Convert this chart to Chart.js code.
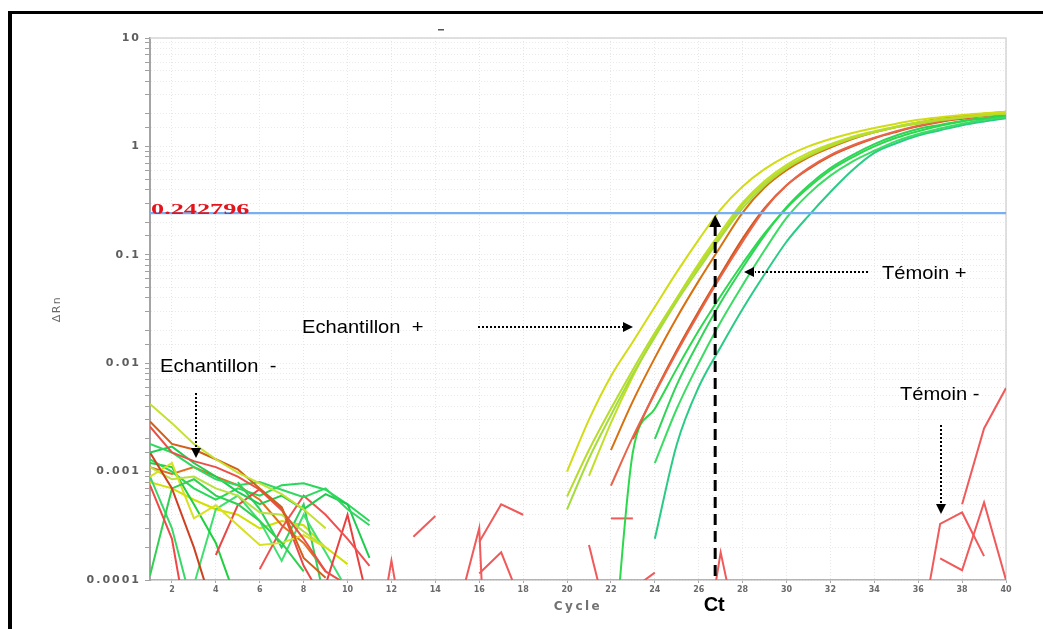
<!DOCTYPE html>
<html><head><meta charset="utf-8">
<script src="https://cdn.jsdelivr.net/npm/chart.js@4.4.1/dist/chart.umd.min.js"></script>
<style>html,body{margin:0;padding:0;background:#fff;}canvas{display:block;}</style>
</head><body>
<canvas id="c" width="1043" height="629"></canvas>
<script>
// ---------- axes ----------
const cycleMin = 1, cycleMax = 40;
const xTickLabels = [2,4,6,8,10,12,14,16,18,20,22,24,26,28,30,32,34,36,38,40];
const yTickLabels = [0.0001, 0.001, 0.01, 0.1, 1, 10];
const threshold = 0.242796;
const ctCycle = 26.75;

// ---------- amplification curves (start cycle + values) ----------
const ampAStart = 20;
const ampA  = [0.00100,0.00302,0.00759,0.0158,0.0331,0.0692,0.138,0.263,0.427,0.617,0.813,1.00,1.17,1.33,1.48,1.62,1.76,1.86,1.95,2.02,2.09];
const ampA2Start = 20;
const ampA2 = [0.000589,0.00158,0.00380,0.00871,0.0191,0.0398,0.0794,0.151,0.288,0.457,0.646,0.832,1.02,1.20,1.36,1.51,1.64,1.76,1.86,1.95,2.02];
const ampA3Start = 20;
const ampA3 = [0.000447,0.00132,0.00331,0.00794,0.0174,0.0372,0.0741,0.145,0.269,0.437,0.631,0.813,1.00,1.19,1.35,1.50,1.62,1.74,1.84,1.93,2.00];
const ampA4Start = 21;
const ampA4 = [0.000912,0.00282,0.00759,0.0182,0.0398,0.0832,0.162,0.302,0.479,0.676,0.871,1.05,1.23,1.38,1.53,1.66,1.78,1.86,1.95,2.02];
const ampBStart = 22;
const ampB  = [0.00158,0.00447,0.0112,0.0263,0.0575,0.120,0.245,0.417,0.603,0.794,0.977,1.17,1.35,1.51,1.66,1.80,1.91,2.00,2.09];
const ampB2Start = 22;
const ampB2 = [0.000741,0.00209,0.00525,0.0126,0.0288,0.0631,0.132,0.263,0.437,0.631,0.832,1.02,1.20,1.38,1.55,1.70,1.82,1.93,2.02];
const ampB3Start = 23;
const ampB3 = [0.00200,0.00537,0.0132,0.0302,0.0661,0.141,0.269,0.437,0.617,0.813,1.00,1.19,1.36,1.53,1.68,1.80,1.91,2.00];
const ampCStart = 22;
const ampC  = [0.00001,0.00151,0.00380,0.00891,0.0200,0.0417,0.0832,0.158,0.269,0.417,0.603,0.794,1.00,1.20,1.38,1.55,1.70,1.82,1.93];
const ampC2Start = 24;
const ampC2 = [0.00200,0.00631,0.0158,0.0363,0.0759,0.151,0.275,0.437,0.631,0.832,1.05,1.26,1.45,1.58,1.72,1.82,1.93];
const ampC3Start = 24;
const ampC3 = [0.00120,0.00380,0.0100,0.0240,0.0525,0.110,0.219,0.363,0.537,0.724,0.912,1.12,1.30,1.46,1.62,1.76,1.86];
const ampDStart = 24;
const ampD  = [0.000240,0.00178,0.00603,0.0141,0.0316,0.0661,0.132,0.229,0.380,0.603,0.871,1.07,1.26,1.41,1.57,1.70,1.82];

// ---------- baseline noise, cycles 1..11 ----------
const noise1  = [0.0042,0.0028,0.0018,0.0013,0.00098,0.00078,0.00062,0.00045,0.0003];
const noise2  = [0.0029,0.0018,0.0016,0.0013,0.00105,0.0007,0.00047,0.00016,0.000105];
const noise3  = [0.0026,0.0015,0.00125,0.0011,0.0009,0.00068,0.00044,0.00024,0.00012,0.00009];
const noise4  = [0.0018,0.0015,0.0011,0.00085,0.00075,0.0008,0.00068,0.00058,0.0007,0.00045,0.00032];
const noise5  = [0.0015,0.0017,0.0012,0.0009,0.00065,0.0005,0.0006,0.00045,0.00062,0.0005,0.00016];
const noise6  = [0.00075,0.00024,0.000017];
const noise7  = [0.0015,0.0007,0.0002,0.000045];
const noise8  = [0.00011,0.0007,0.00085,0.0006,0.0005,0.00035,0.00022,0.00012];
const noise9  = [0.0009,0.0012,0.00037,0.00049,0.00032,0.00021,0.00022,0.00026,0.0002];
const noise10 = [0.0011,0.00085,0.0009,0.0007,0.0006,0.00042,0.0004,0.00028,0.0002];
const noise11 = [null,null,null,0.00017,0.00049,0.00069,0.00046,0.000135,0.00006];
const noise12 = [null,null,null,null,null,0.000126,0.0003,0.0006,0.0004,0.00024,0.000135];
const noise13 = [null,null,null,null,null,null,null,null,0.00009,0.0004,0.000055];
const noise14 = [0.0013,0.001,0.0007,0.00055,0.0007,0.0006,0.00075,0.00078,0.00068,0.0005,0.00035];
const noise15 = [0.0012,0.0011,0.0005,0.00022,0.00006];
const noise16 = [0.0009,0.0003,0.00005];
const noise17 = [null,null,0.00009,0.00045,0.0006,0.00035,0.00015,0.0004,0.00018,0.00008];
const noise18 = [null,null,null,null,0.0008,0.00045,0.0002,0.0005,0.00006];
const noise19 = [0.0011,0.00095,0.0011,0.0009,0.00075,0.00055,0.00032,0.00022,0.00012];
const noise20 = [0.0008,0.0007,0.00055,0.00045,0.0004,0.0003,0.00035,0.00032,0.0002,0.00014];

// ---------- scattered red fragments (start cycle + values) ----------
const frag1Start = 11, frag1 = [0.00001,0.000151,0.00001];
const frag2Start = 13, frag2 = [0.000251,0.00039];
const frag3Start = 15, frag3 = [0.00005,0.0003,0.00000001];
const frag4Start = 16, frag4 = [0.000224,0.0005,0.0004];
const frag5Start = 16, frag5 = [0.000115,0.00018,0.000056];
const frag6Start = 21, frag6 = [0.00021,0.000032];
const frag7Start = 22, frag7 = [0.00037,0.00037];
const frag8Start = 23, frag8 = [0.000083,0.000117];
const frag9Start = 26, frag9 = [0.00001,0.00018,0.00002];
// negative controls (Témoin -)
const neg1Start = 36, neg1 = [0.000024,0.00033,0.00042,0.000166];
const neg2Start = 37, neg2 = [0.000158,0.000123,0.00052,0.0001];
const neg3Start = 38, neg3 = [0.0005,0.0025,0.0059];

// ---------- build datasets ----------
function pts(start, vals){ return vals.map((v,i)=>({x:start+i, y:v})); }
function lineDs(data, color, smooth){
  return {data, borderColor:color, backgroundColor:color, borderWidth:2, pointRadius:0,
    fill:false, tension: smooth?0.4:0, cubicInterpolationMode: smooth?'monotone':'default', spanGaps:false};
}
const datasets = [];
datasets.push({data:[{x:cycleMin,y:threshold},{x:cycleMax,y:threshold}], borderColor:'#78aef2', borderWidth:2.2, pointRadius:0, fill:false});
const ampList = [
  [ampAStart,ampA,'#d2dc14'],[ampA2Start,ampA2,'#b6dc2c'],[ampA3Start,ampA3,'#a4dc3c'],[ampA4Start,ampA4,'#c0e028'],
  [ampBStart,ampB,'#d8700e'],[ampB2Start,ampB2,'#e8644a'],[ampB3Start,ampB3,'#d2581a'],
  [ampCStart,ampC,'#2cd84c'],[ampC2Start,ampC2,'#30d458'],[ampC3Start,ampC3,'#3cdc64'],[ampDStart,ampD,'#28cc84']
];
ampList.forEach(a=>datasets.push(lineDs(pts(a[0],a[1]),a[2],true)));
const noiseList = [
  [noise1,'#c4e030'],[noise2,'#d0601a'],[noise3,'#e85048'],[noise4,'#30d860'],[noise5,'#20cc50'],
  [noise6,'#f04848'],[noise7,'#d04020'],[noise8,'#30d050'],[noise9,'#d8e020'],[noise10,'#b8e040'],
  [noise11,'#e84848'],[noise12,'#f05050'],[noise13,'#e84040'],[noise14,'#28d858'],[noise15,'#20d040'],
  [noise16,'#38d868'],[noise17,'#40e070'],[noise18,'#30d060'],[noise19,'#e07020'],[noise20,'#d0e000']
];
noiseList.forEach(n=>datasets.push(lineDs(pts(1,n[0]),n[1],false)));
const fragList = [
  [frag1Start,frag1],[frag2Start,frag2],[frag3Start,frag3],[frag4Start,frag4],[frag5Start,frag5],
  [frag6Start,frag6],[frag7Start,frag7],[frag8Start,frag8],[frag9Start,frag9],
  [neg1Start,neg1],[neg2Start,neg2],[neg3Start,neg3]
];
fragList.forEach(f=>datasets.push(lineDs(pts(f[0],f[1]),'#f05a5a',false)));

// ---------- plugins ----------
function spaced(scale, method, spacing){
  const key = '_sp_' + method;
  if (scale[key]) return;
  const orig = scale[method];
  scale[method] = function(){ const c = this.ctx; c.save(); c.letterSpacing = spacing; const r = orig.apply(this, arguments); c.restore(); return r; };
  scale[key] = true;
}
const axisTextPlugin = {
  id:'axisText',
  beforeDraw(chart){
    spaced(chart.scales.y, 'drawLabels', '2px');
    spaced(chart.scales.y, 'drawTitle', '1.5px');
    spaced(chart.scales.x, 'drawTitle', '2.5px');
  },
  beforeDatasetsDraw(chart){
    const ctx = chart.ctx, a = chart.chartArea;
    ctx.save();
    ctx.strokeStyle = '#d6d6d6'; ctx.lineWidth = 1.5;
    ctx.beginPath(); ctx.moveTo(a.left, a.top); ctx.lineTo(a.right, a.top); ctx.lineTo(a.right, a.bottom); ctx.stroke();
    ctx.restore();
  }
};
function head(ctx,x,y,dir,len,half){
  ctx.beginPath();
  if(dir==='right'){ctx.moveTo(x,y);ctx.lineTo(x-len,y-half);ctx.lineTo(x-len,y+half);}
  if(dir==='left'){ctx.moveTo(x,y);ctx.lineTo(x+len,y-half);ctx.lineTo(x+len,y+half);}
  if(dir==='down'){ctx.moveTo(x,y);ctx.lineTo(x-half,y-len);ctx.lineTo(x+half,y-len);}
  if(dir==='up'){ctx.moveTo(x,y);ctx.lineTo(x-half,y+len);ctx.lineTo(x+half,y+len);}
  ctx.closePath(); ctx.fill();
}
function dotted(ctx,x1,y1,x2,y2){
  ctx.save(); ctx.setLineDash([2,2]); ctx.lineWidth=2; ctx.beginPath(); ctx.moveTo(x1,y1); ctx.lineTo(x2,y2); ctx.stroke(); ctx.restore();
}
function label(ctx,text,x,y,font){
  ctx.save(); ctx.font = font; ctx.fillStyle='#000'; ctx.textBaseline='alphabetic'; ctx.textAlign='left';
  ctx.translate(x,y); ctx.scale(1.06,1); ctx.fillText(text,0,0); ctx.restore();
}
const annotPlugin = {
  id:'annot',
  afterDraw(chart){
    const ctx = chart.ctx, xs = chart.scales.x, ys = chart.scales.y, a = chart.chartArea;
    ctx.save();
    // threshold value
    const ty = ys.getPixelForValue(threshold);
    ctx.save();
    ctx.font = 'bold 15px "Liberation Serif", "Times New Roman", serif';
    ctx.fillStyle = '#e4141c';
    ctx.translate(a.left + 1, ty + 1);
    ctx.scale(1.75, 1);
    ctx.fillText('0.242796', 0, 0);
    ctx.restore();
    ctx.fillStyle = '#000'; ctx.strokeStyle = '#000';
    // Ct dashed line
    const cx = xs.getPixelForValue(ctCycle);
    ctx.save(); ctx.setLineDash([11,6]); ctx.lineWidth = 3;
    ctx.beginPath(); ctx.moveTo(cx, ty + 12); ctx.lineTo(cx, a.bottom); ctx.stroke(); ctx.restore();
    head(ctx, cx, ty + 2, 'up', 12, 6);
    ctx.save(); ctx.font = 'bold 20px "Liberation Sans", Arial, sans-serif'; ctx.textAlign='center';
    ctx.fillText('Ct', cx - 1, 611); ctx.restore();
    // text labels
    const f = '19px "Liberation Sans", Arial, sans-serif';
    label(ctx,'Echantillon  -',160,372,f);
    label(ctx,'Echantillon  +',302,333,f);
    label(ctx,'Témoin +',882,279,f);
    label(ctx,'Témoin -',900,400,f);
    // arrows
    dotted(ctx,196,393,196,448); head(ctx,196,458,'down',10,5);
    dotted(ctx,478,327,623,327); head(ctx,633,327,'right',10,5);
    dotted(ctx,868,272,755,272); head(ctx,744,272,'left',10,5);
    dotted(ctx,941,425,941,504); head(ctx,941,514,'down',10,5);
    // frame + small title mark
    ctx.fillStyle = '#000';
    ctx.fillRect(8,11,4,629-11);
    ctx.fillRect(8,11,1043-8,3);
    ctx.fillStyle = '#555';
    ctx.fillRect(438,29,6,1.5);
    ctx.restore();
  }
};

function isDecade(v){ const l = Math.log10(v); return Math.abs(l - Math.round(l)) < 1e-6; }

new Chart(document.getElementById('c'), {
  type:'line',
  data:{datasets},
  options:{
    responsive:false, animation:false, devicePixelRatio:1,
    layout:{padding:{left:0, top:38, right:37, bottom:0}},
    plugins:{legend:{display:false}, tooltip:{enabled:false}},
    scales:{
      x:{type:'linear', min:cycleMin, max:cycleMax,
        afterFit(s){ s.height = 49; },
        ticks:{stepSize:2, includeBounds:false, autoSkip:false, maxRotation:0, padding:2,
          color:'#6a6a6a', font:{family:'"DejaVu Sans", sans-serif', size:8, weight:'bold'},
          callback:(v)=> xTickLabels.includes(v) ? String(v) : ''},
        grid:{color:'#e6e6e6', lineWidth:1, tickLength:3, tickColor:'#a8a8a8'},
        border:{display:true, color:'#b4b4b4', width:1.5, dash:[1,2]},
        title:{display:true, text:'Cycle', color:'#727272', padding:{top:0,bottom:15},
          font:{family:'"DejaVu Sans", sans-serif', size:12, weight:'bold'}}
      },
      y:{type:'logarithmic', min:yTickLabels[0], max:yTickLabels[yTickLabels.length-1],
        afterFit(s){ s.width = 150; },
        ticks:{autoSkip:false, padding:4, color:'#5e5e5e',
          font:{family:'"DejaVu Sans", sans-serif', size:11, weight:'bold'},
          callback:(v)=> (isDecade(v) && yTickLabels.some(t=>Math.abs(t-v)/t<1e-6)) ? String(v) : ''},
        grid:{color:'#eaeaea', lineWidth:1, tickLength:5, tickColor:'#a0a0a0'},
        border:{display:true, color:'#a4a4a4', width:2, dash:[1,2]},
        title:{display:true, text:'ΔRn', color:'#6a6a6a', padding:{top:51,bottom:0},
          font:{family:'"DejaVu Sans", sans-serif', size:11}}
      }
    }
  },
  plugins:[axisTextPlugin, annotPlugin]
});
</script>
</body></html>
